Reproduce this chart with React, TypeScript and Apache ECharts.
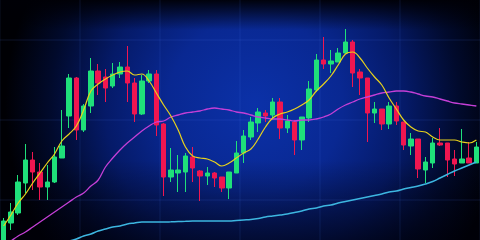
import React, { useEffect, useRef } from "react";
import * as echarts from "echarts";

const categories: string[] = Array.from({ length: 66 }, (_, i) => `T${i + 1}`);

const opens = [-1, 17, 27, 57, 80, 68, 53, 58, 82, 124, 162, 110, 134, 169, 163, 154, 166, 173, 157, 126, 159, 166,
  116, 63, 67, 68, 83, 69, 64, 67, 63, 52, 67, 87, 103, 117, 127, 125, 138, 112, 118, 100, 122, 150,
  180, 176, 178, 187, 198, 168, 162, 127, 131, 116, 134, 118, 94, 101, 70, 77, 97, 97, 81, 77, 82, 77];
const closes = [19, 28, 58, 80, 68, 53, 58, 83, 94, 162, 110, 134, 169, 157, 152, 166, 173, 157, 126, 159, 166, 115,
  63, 70, 70, 84, 72, 64, 67, 62, 52, 68, 87, 104, 118, 128, 124, 138, 112, 119, 100, 123, 151, 180,
  176, 179, 187, 198, 167, 162, 127, 131, 116, 134, 119, 95, 101, 71, 78, 97, 95, 80, 76, 81, 77, 93];
const lows = [-5, 10, 25, 47, 50, 40, 40, 57, 82, 112, 100, 108, 127, 145, 138, 152, 162, 138, 118, 125, 157, 104,
  44, 58, 48, 48, 58, 39, 55, 53, 48, 41, 67, 77, 100, 108, 118, 122, 101, 107, 85, 90, 118, 148,
  171, 167, 178, 187, 153, 145, 98, 117, 110, 111, 115, 90, 85, 62, 57, 72, 94, 63, 64, 77, 77, 77];
const highs = [22, 37, 65, 96, 88, 77, 75, 93, 130, 166, 163, 136, 182, 176, 171, 177, 178, 194, 162, 165, 170, 170,
  117, 92, 85, 87, 93, 70, 73, 68, 63, 68, 99, 110, 123, 132, 130, 142, 142, 125, 120, 123, 159, 186,
  203, 190, 192, 211, 200, 171, 162, 138, 131, 138, 138, 118, 107, 101, 83, 102, 112, 97, 90, 111, 98, 98];

const maShort = [14, 25, 37, 46, 57, 67, 77, 86, 99, 106, 114, 130, 149, 156, 161, 165, 168, 169, 165, 166, 159, 147,
  135, 124, 110, 93, 84, 82, 81, 78, 74, 77, 82, 87, 91, 101, 113, 122, 126, 128, 131, 135, 140, 149,
  156, 164, 175, 186, 188, 182, 172, 163, 155, 142, 131, 120, 113, 109, 108, 103, 100, 100, 100, 98, 97, 100];
const maMid = [-6, -1, 4, 8, 13, 18, 23, 28, 33, 38, 43, 47, 54, 60, 73, 82, 90, 97, 103, 109, 114, 118,
  119, 123, 125, 127, 128, 129, 131, 132, 131, 130, 128, 127, 125, 123, 122, 121, 121, 120, 119, 120,
  120, 121, 123, 126, 131, 135, 138, 141, 143, 145, 147, 148, 149, 149, 148, 146, 144, 143, 141, 139, 137, 136, 135, 134];
const maLong = [-28, -24, -20, -16, -12, -9, -6, -4, -2, -1, 1, 4, 6, 9, 11, 13, 14, 16, 17, 18, 18, 18,
  18, 18.2, 18.5, 18.7, 19, 19, 19, 19, 19, 19, 19.5, 20, 20.5, 21.5, 23, 24, 25, 26, 27.5, 29,
  31, 32, 34, 35, 37, 38.5, 40, 41.5, 43, 44.5, 46, 48, 49, 51, 52.5, 54, 56, 58.5, 62, 65.5, 69, 72, 75, 78];

const UP = "#1fe07a";
const DOWN = "#f01650";

export default function App() {
  const ref = useRef<HTMLDivElement>(null);
  useEffect(() => {
    if (!ref.current) return;
    const chart = echarts.init(ref.current, undefined, { renderer: "svg" });
    const candles = opens.map((o, i) => [o, closes[i], lows[i], highs[i]]);
    chart.setOption({
      animation: false,
      backgroundColor: new echarts.graphic.RadialGradient(255, 105, 250, [
        { offset: 0, color: "#0b31a8" },
        { offset: 0.35, color: "#092892" },
        { offset: 0.6, color: "#051a68" },
        { offset: 0.82, color: "#010a2c" },
        { offset: 1, color: "#000004" },
      ], true),
      graphic: [
        {
          type: "rect",
          z: -10,
          silent: true,
          shape: { x: 0, y: 0, width: 480, height: 30 },
          style: {
            fill: new echarts.graphic.LinearGradient(0, 0, 0, 1, [
              { offset: 0, color: "rgba(0,0,6,0.95)" },
              { offset: 1, color: "rgba(0,0,6,0)" },
            ]),
          },
        },
        {
          type: "rect",
          z: -10,
          silent: true,
          shape: { x: 0, y: 160, width: 480, height: 80 },
          style: {
            fill: new echarts.graphic.LinearGradient(0, 0, 0, 1, [
              { offset: 0, color: "rgba(0,0,10,0)" },
              { offset: 1, color: "rgba(0,0,10,0.6)" },
            ]),
          },
        },
      ],
      grid: { left: 0, right: 0, top: 0, bottom: 0, containLabel: false },
      xAxis: [
        {
          type: "category",
          data: categories,
          boundaryGap: true,
          show: false,
        },
        {
          type: "value",
          min: 0,
          max: 480,
          interval: 80,
          show: true,
          axisLine: { show: false },
          axisTick: { show: false },
          axisLabel: { show: false },
          splitLine: { show: true, lineStyle: { color: "rgba(90,130,255,0.06)", width: 2 } },
        },
      ],
      yAxis: {
        type: "value",
        min: 0,
        max: 240,
        interval: 40,
        axisLine: { show: false },
        axisTick: { show: false },
        axisLabel: { show: false },
        splitLine: {
          show: true,
          lineStyle: { color: ["rgba(0,0,0,0)", "rgba(90,130,255,0.07)"], width: 2 },
        },
      },
      series: [
        {
          type: "candlestick",
          data: candles,
          barWidth: 5,
          clip: true,
          itemStyle: {
            color: UP,
            color0: DOWN,
            borderColor: UP,
            borderColor0: DOWN,
            borderWidth: 1,
          },
          z: 2,
        },
        {
          type: "line",
          data: maLong,
          smooth: 0.4,
          symbol: "none",
          clip: true,
          lineStyle: { color: "#3db6e0", width: 1.5 },
          z: 3,
        },
        {
          type: "line",
          data: maMid,
          smooth: 0.4,
          symbol: "none",
          clip: true,
          lineStyle: { color: "#c43fd6", width: 1.3 },
          z: 3,
        },
        {
          type: "line",
          data: maShort,
          smooth: 0.4,
          symbol: "none",
          clip: true,
          lineStyle: { color: "#e8d21c", width: 1.2 },
          z: 4,
        },
      ],
    });
    return () => chart.dispose();
  }, []);
  return <div ref={ref} style={{ width: 480, height: 240, position: "fixed", left: 0, top: 0 }} />;
}
